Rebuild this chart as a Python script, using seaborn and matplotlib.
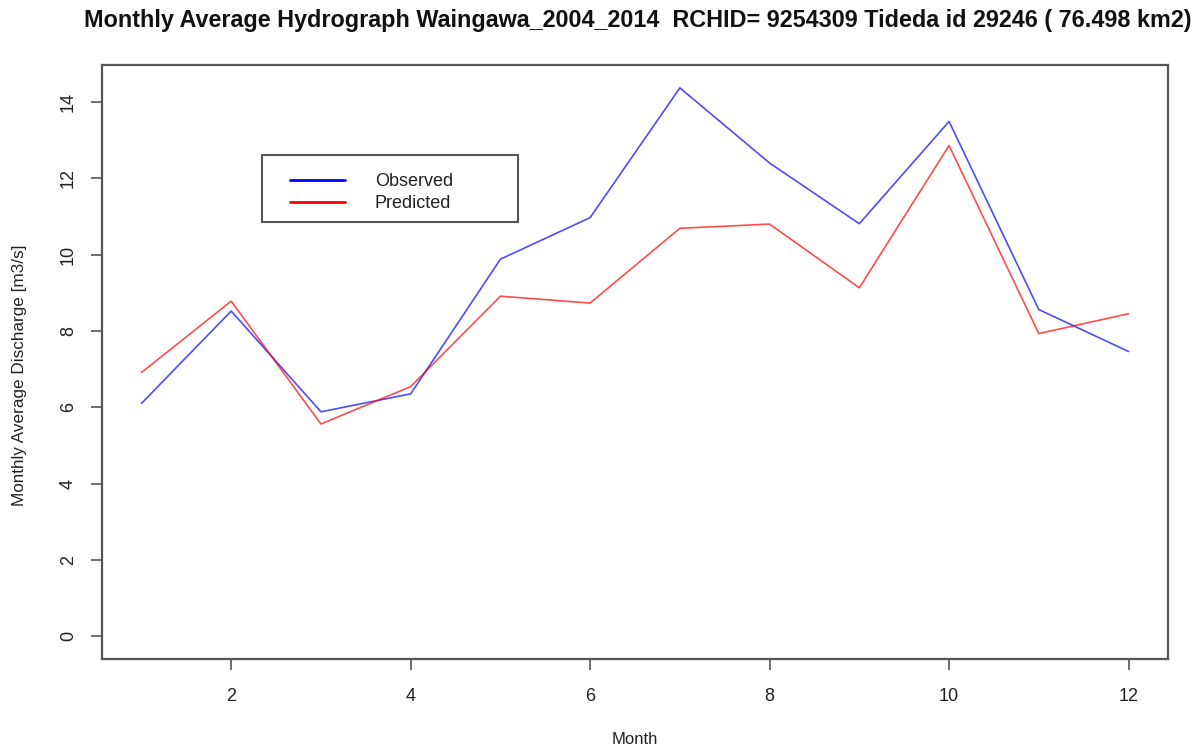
import matplotlib
matplotlib.use("Agg")
import matplotlib.pyplot as plt
import seaborn as sns
import pandas as pd
from matplotlib.lines import Line2D
from matplotlib.patches import Rectangle

months = list(range(1, 13))
observed = [6.10, 8.52, 5.88, 6.35, 9.88, 10.97, 14.37, 12.40, 10.81, 13.49, 8.56, 7.46]
predicted = [6.91, 8.78, 5.56, 6.54, 8.91, 8.73, 10.69, 10.80, 9.13, 12.86, 7.93, 8.45]
series_names = ["Observed", "Predicted"]
series_colors = ["#0000FF", "#FF0000"]
title = "Monthly Average Hydrograph Waingawa_2004_2014  RCHID= 9254309 Tideda id 29246 ( 76.498 km2)"
xticks = [2, 4, 6, 8, 10, 12]
yticks = [0, 2, 4, 6, 8, 10, 12, 14]

df = pd.DataFrame({
    "Month": months * 2,
    "Discharge": observed + predicted,
    "Series": [series_names[0]] * 12 + [series_names[1]] * 12,
})

sns.set_theme(style="white")
plt.rcParams["font.family"] = ["Liberation Sans", "DejaVu Sans"]

W, H = 1194, 749
L, R, T, B = 102, 1168, 65, 659
fig = plt.figure(figsize=(11.94, 7.49), dpi=100)
ax = fig.add_axes([L / W, 1 - B / H, (R - L) / W, (B - T) / H])

sns.lineplot(data=df, x="Month", y="Discharge", hue="Series",
             palette=dict(zip(series_names, series_colors)),
             linewidth=1.2, alpha=0.7, ax=ax, legend=False)

ax.set_xlim(0.56, 12.44)
ax.set_ylim(-0.6, 14.97)
ax.set_xticks(xticks)
ax.set_yticks(yticks)
ax.set_xticklabels([str(t) for t in xticks], fontsize=13)
ax.set_yticklabels([str(t) for t in yticks], fontsize=13, rotation=90, va="center")
ax.tick_params(axis="both", direction="out", length=8, width=1.2, colors="#555555",
               labelcolor="#222222", bottom=True, left=True)
ax.tick_params(axis="x", pad=13)
ax.tick_params(axis="y", pad=10)
for s in ax.spines.values():
    s.set_visible(True)
    s.set_color("#555555")
    s.set_linewidth(1.6)

ax.set_xlabel("")
ax.set_ylabel("")
fig.text((L + R) / 2 / W, 1 - 740 / H, "Month", ha="center", va="center", fontsize=12, color="#222222")
fig.text(20 / W, 1 - 375 / H, "Monthly Average Discharge [m3/s]", ha="center", va="center",
         rotation=90, fontsize=12.3, color="#222222")
fig.text(638 / W, 1 - 20 / H, title, ha="center", va="center", fontsize=16.8,
         fontweight="bold", color="#111111")

# legend
bx0, bx1, by0, by1 = 262, 518, 155, 222
def to_ax(px, py):
    return (px - L) / (R - L), (B - py) / (B - T)
x0, y0 = to_ax(bx0, by1)
x1, y1 = to_ax(bx1, by0)
ax.add_patch(Rectangle((x0, y0), x1 - x0, y1 - y0, transform=ax.transAxes,
                       facecolor="white", edgecolor="#555555", linewidth=1.5, zorder=5))
for (name, col), py in zip(zip(series_names, series_colors), [180, 202]):
    ax_, ay_ = to_ax(290, py)
    bx_, _ = to_ax(345, py)
    ax.add_line(Line2D([ax_, bx_], [ay_, ay_], transform=ax.transAxes, color=col,
                       lw=2, zorder=6))
    tx, _ = to_ax(375, py)
    ax.text(tx, ay_ - 0.003, name, transform=ax.transAxes, ha="left", va="center",
            fontsize=13, color="#222222", zorder=6)

fig.savefig("out.png", dpi=100, facecolor="white")
